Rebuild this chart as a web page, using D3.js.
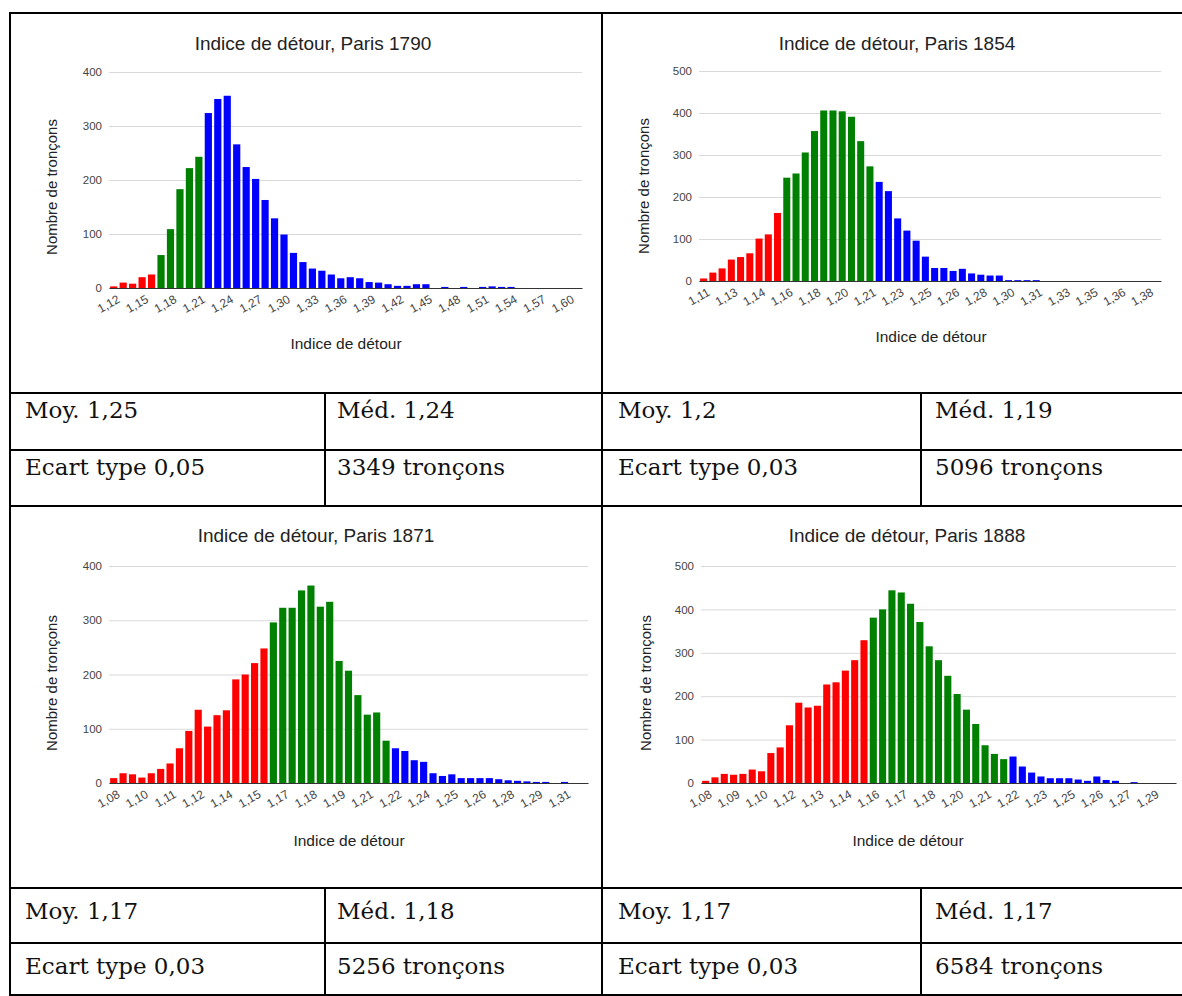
<!DOCTYPE html>
<html><head><meta charset="utf-8">
<script src="https://cdn.jsdelivr.net/npm/d3@7"></script>
<style>body{margin:0;background:#fff}</style>
</head><body><svg id="c" width="1182" height="996"></svg>
<script>
// ---------- DATA ----------
const titles = ["Indice de détour, Paris 1790","Indice de détour, Paris 1854","Indice de détour, Paris 1871","Indice de détour, Paris 1888"];
const yAxisTitle = "Nombre de tronçons";
const xAxisTitle = "Indice de détour";

const values1790 = [3,10,8,20,25, 61,109,183,222,243, 324,350,356,266,224,202,163,129,99,65,48,36,32,25,18,20,18,11,10,7,4,4,7,7,0,2,0,2,0,2,3,2,2,0,0,0,0,0,0,0];
const ticks1790 = ["1,12","1,15","1,18","1,21","1,24","1,27","1,30","1,33","1,36","1,39","1,42","1,45","1,48","1,51","1,54","1,57","1,60"];
const split1790 = [5,10];

const values1854 = [6,20,30,51,57,66,101,111,162, 246,256,306,357,406,406,404,391,333,273, 236,214,149,120,96,58,31,31,24,29,18,15,13,13,2,2,2,2,0,0,0,0,0,0,0,0,0,0,0,0,0];
const ticks1854 = ["1,11","1,13","1,14","1,16","1,18","1,20","1,21","1,23","1,25","1,26","1,28","1,30","1,31","1,33","1,35","1,36","1,38"];
const split1854 = [9,19];

const values1871 = [9,18,16,10,18,26,36,64,96,135,104,125,134,191,200,221,248, 296,323,323,355,364,325,334,225,207,162,126,130,78, 64,59,42,39,18,13,16,9,9,9,9,7,5,4,3,2,2,0,2,0,0];
const ticks1871 = ["1,08","1,10","1,11","1,12","1,14","1,15","1,17","1,18","1,19","1,21","1,22","1,24","1,25","1,26","1,28","1,29","1,31"];
const split1871 = [17,30];

const values1888 = [5,13,21,19,21,31,27,69,82,133,185,174,178,227,232,259,283,329, 381,400,444,439,413,371,315,283,247,205,169,136,87,67,55, 61,38,24,15,11,11,11,8,5,15,7,5,0,2,0,0,0,0];
const ticks1888 = ["1,08","1,09","1,10","1,12","1,13","1,14","1,16","1,17","1,18","1,20","1,21","1,22","1,23","1,25","1,26","1,27","1,29"];
const split1888 = [18,33];

const statsMoy = ["Moy. 1,25","Moy. 1,2","Moy. 1,17","Moy. 1,17"];
const statsMed = ["Méd. 1,24","Méd. 1,19","Méd. 1,18","Méd. 1,17"];
const statsEcart = ["Ecart type 0,05","Ecart type 0,03","Ecart type 0,03","Ecart type 0,03"];
const statsCount = ["3349 tronçons","5096 tronçons","5256 tronçons","6584 tronçons"];
const yMax = [400,500,400,500];

// ---------- LAYOUT ----------
const layout = [
  {x0:109, x1:582, yT:72, yB:288, tx:313, ty:43, ytx:51, yty:187, xtx:346, xty:343},
  {x0:699, x1:1161, yT:71, yB:281, tx:897, ty:43, ytx:643, yty:186, xtx:931, xty:336},
  {x0:109, x1:588, yT:566, yB:783, tx:316, ty:535, ytx:51, yty:683, xtx:349, xty:840},
  {x0:701, x1:1176, yT:566, yB:783, tx:907, ty:535, ytx:645, yty:683, xtx:908, xty:840}
];
const series = [
  {values:values1790, ticks:ticks1790, split:split1790},
  {values:values1854, ticks:ticks1854, split:split1854},
  {values:values1871, ticks:ticks1871, split:split1871},
  {values:values1888, ticks:ticks1888, split:split1888}
];

const svg = d3.select("#c");
svg.append("rect").attr("width",1182).attr("height",996).attr("fill","#fff");
const SANS = "'Liberation Sans', Arial, sans-serif";
const SERIF = "'DejaVu Serif', serif";
const colorOf = (i, split) => i < split[0] ? "#ff0000" : (i < split[1] ? "#008000" : "#0000ff");

series.forEach((s, k) => {
  const L = layout[k];
  const g = svg.append("g");
  const x = d3.scaleBand().domain(d3.range(s.values.length)).range([L.x0, L.x1]).paddingInner(0.24).paddingOuter(0.12);
  const y = d3.scaleLinear().domain([0, yMax[k]]).range([L.yB, L.yT]);

  // title
  g.append("text").attr("x", L.tx).attr("y", L.ty).attr("text-anchor","middle").attr("dominant-baseline","central")
    .attr("font-family", SANS).attr("font-size", 19).attr("fill","#222").text(titles[k]);

  // gridlines + y labels
  const ya = d3.axisLeft(y).tickValues(d3.range(0, yMax[k] + 1, 100)).tickSize(-(L.x1 - L.x0)).tickPadding(7);
  const gy = g.append("g").attr("transform", `translate(${L.x0},0)`).call(ya);
  gy.select(".domain").remove();
  gy.selectAll(".tick line").attr("stroke", "#d9d9d9");
  gy.selectAll(".tick text").attr("font-family", SANS).attr("font-size", 11.5).attr("fill", "#444");

  // bars
  g.append("g").selectAll("rect").data(s.values).join("rect")
    .attr("x", (d, i) => x(i)).attr("width", x.bandwidth())
    .attr("y", d => y(d)).attr("height", d => y(0) - y(d))
    .attr("fill", (d, i) => colorOf(i, s.split));

  // x axis
  const tickIdx = s.ticks.map((t, j) => j * 3);
  const xa = d3.axisBottom(x).tickValues(tickIdx).tickFormat((d) => s.ticks[d / 3]).tickSize(0);
  const gx = g.append("g").attr("transform", `translate(0,${L.yB})`).call(xa);
  gx.select(".domain").attr("stroke", "#333");
  gx.selectAll(".tick text")
    .attr("x", 0).attr("y", 0).attr("dy", "0.35em")
    .attr("text-anchor", "end")
    .attr("transform", "translate(5,10) rotate(-30)")
    .attr("font-family", SANS).attr("font-size", 12).attr("fill", "#444");

  // axis titles
  g.append("text").attr("transform", `translate(${L.ytx},${L.yty}) rotate(-90)`).attr("text-anchor","middle")
    .attr("dominant-baseline","central").attr("font-family", SANS).attr("font-size", 15).attr("fill","#222").text(yAxisTitle);
  g.append("text").attr("x", L.xtx).attr("y", L.xty).attr("text-anchor","middle").attr("dominant-baseline","central")
    .attr("font-family", SANS).attr("font-size", 15.5).attr("fill","#222").text(xAxisTitle);
});

// ---------- TABLE ----------
const tg = svg.append("g").attr("stroke", "#000").attr("stroke-width", 2);
const hLines = [13, 393, 450, 506, 888, 943, 995];
hLines.forEach(yy => tg.append("line").attr("x1", 9).attr("x2", 1182).attr("y1", yy).attr("y2", yy));
[10, 602].forEach(xx => tg.append("line").attr("x1", xx).attr("x2", xx).attr("y1", 12).attr("y2", 996));
[[393,506],[888,996]].forEach(([a,b]) => {
  [325, 921].forEach(xx => tg.append("line").attr("x1", xx).attr("x2", xx).attr("y1", a).attr("y2", b));
});

const cellX = [[25, 337], [618, 935], [25, 337], [618, 935]];
const rowBase = [[418, 475], [418, 475], [919, 974], [919, 974]];
statsMoy.forEach((t, k) => {
  const cx = cellX[k], rb = rowBase[k];
  const rows = [[statsMoy[k], statsMed[k]], [statsEcart[k], statsCount[k]]];
  rows.forEach((r, ri) => r.forEach((txt, ci) => {
    svg.append("text").attr("x", cx[ci]).attr("y", rb[ri]).attr("font-family", SERIF)
      .attr("font-size", 23).attr("fill", "#111").text(txt);
  }));
});
</script>
</body></html>
